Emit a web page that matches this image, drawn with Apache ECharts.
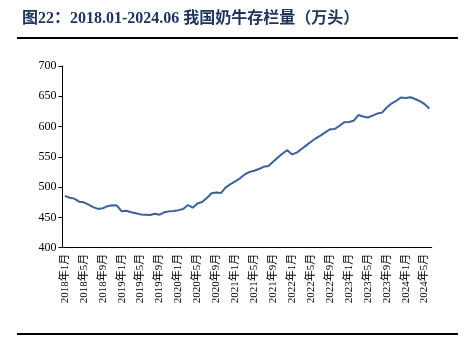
<!DOCTYPE html>
<html>
<head>
<meta charset="utf-8">
<script src="https://cdn.jsdelivr.net/npm/echarts@6/dist/echarts.min.js"></script>
<style>
  html, body { margin: 0; padding: 0; background: #fff; }
  #chart { width: 469px; height: 364px; }
</style>
</head>
<body>
<div id="chart"></div>
<script>
// 2018.01-2024.06 我国奶牛存栏量（万头）

var years = [2018, 2019, 2020, 2021, 2022, 2023, 2024];

// 月份类目：2018年1月 ... 2024年6月
var months = [];
years.forEach(function (y) {
    for (var m = 1; m <= 12; m++) {
        if (y === 2024 && m > 6) break;
        months.push(y + '年' + m + '月');
    }
});

var cattle2018 = [485.5, 482.5, 481, 476, 475, 471, 467, 464, 465, 468.5, 470, 469.5];
var cattle2019 = [460, 461, 458.5, 457, 455, 454.5, 454, 456, 454.5, 458.5, 460, 460.5];
var cattle2020 = [462, 464, 470.5, 466, 473, 475.5, 482, 490, 491, 490.5, 499.5, 505];
var cattle2021 = [509.5, 514.5, 521, 525, 527, 530, 533.5, 535, 542, 549, 555.5, 561];
var cattle2022 = [554, 557, 563, 569, 575, 580.5, 585, 590.5, 595.5, 596, 601, 607];
var cattle2023 = [607.5, 609.5, 619, 616.5, 615, 618, 621.5, 623, 631.5, 638, 642.5, 648];
var cattle2024 = [647, 648.5, 645.5, 642, 637, 630];

var cattle = [].concat(cattle2018, cattle2019, cattle2020, cattle2021,
    cattle2022, cattle2023, cattle2024);

var yTicks = [400, 450, 500, 550, 600, 650, 700];

var chart = echarts.init(document.getElementById('chart'));

var option = {
    backgroundColor: '#fff',
    animation: false,
    title: {
        text: '图22：2018.01-2024.06 我国奶牛存栏量（万头）',
        left: 17,
        top: 6,
        textStyle: {
            fontFamily: '"Liberation Serif", "Noto Sans CJK SC", serif',
            fontSize: 16,
            fontWeight: 'bold',
            color: '#1f3560'
        }
    },
    grid: {
        left: 62.5,
        right: 37.3,
        top: 66,
        bottom: 116.3
    },
    xAxis: {
        type: 'category',
        data: months,
        boundaryGap: true,
        axisLine: { lineStyle: { color: '#000', width: 1 } },
        axisTick: {
            interval: 3,
            length: 4,
            lineStyle: { color: '#000' }
        },
        axisLabel: {
            interval: 3,
            rotate: 90,
            margin: 6,
            fontSize: 11,
            color: '#000',
            fontFamily: '"Liberation Serif", "Noto Sans CJK SC", serif'
        },
        splitLine: { show: false }
    },
    yAxis: {
        type: 'value',
        min: yTicks[0],
        max: yTicks[yTicks.length - 1],
        interval: 50,
        axisLine: { show: true, lineStyle: { color: '#000', width: 1 } },
        axisTick: { show: true, length: 4, lineStyle: { color: '#000' } },
        axisLabel: {
            margin: 6,
            fontSize: 12,
            color: '#000',
            fontFamily: '"Liberation Serif", serif'
        },
        splitLine: { show: false }
    },
    series: [
        {
            name: '奶牛存栏量',
            type: 'line',
            data: cattle,
            symbol: 'none',
            smooth: false,
            lineStyle: { color: '#3d6199', width: 2 },
            itemStyle: { color: '#3d6199' }
        }
    ],
    graphic: [
        {
            type: 'line',
            shape: { x1: 17, y1: 38, x2: 458, y2: 38 },
            style: { stroke: '#000', lineWidth: 2 }
        },
        {
            type: 'line',
            shape: { x1: 17, y1: 334, x2: 458, y2: 334 },
            style: { stroke: '#000', lineWidth: 2 }
        }
    ]
};

chart.setOption(option);
</script>
</body>
</html>
